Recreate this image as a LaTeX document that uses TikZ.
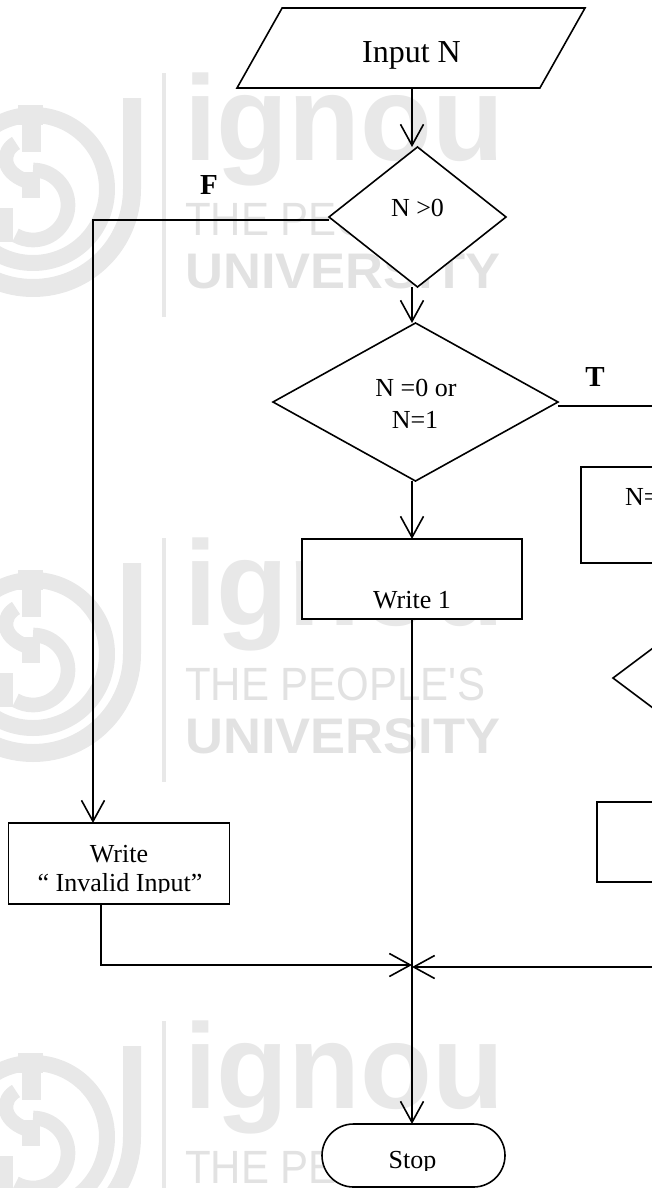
\documentclass[tikz,border=0pt]{standalone}
\usepackage{fontspec}
\setmainfont{Liberation Serif}
\newfontfamily\wmfont{Liberation Sans}
\usetikzlibrary{arrows.meta,shapes.geometric,shapes.misc}
\newdimen\px \px=0.75pt
\definecolor{wma}{HTML}{E8E8E8}
\definecolor{wmb}{HTML}{E2E2E2}
\tikzset{
  shp/.style={draw=black,fill=white,line width=1.2pt,inner sep=0pt,outer sep=0pt},
  boxn/.style={shp,rectangle,minimum width=#1},
  ddia/.style={shp,diamond},
  txt/.style={inner sep=0pt,outer sep=0pt,anchor=base,font=\fontsize{19.5}{23}\selectfont},
  bold txt/.style={inner sep=0pt,outer sep=0pt,anchor=base,font=\fontsize{21.75}{25}\selectfont\bfseries},
  conn/.style={draw=black,line width=1.3pt},
  arr/.style={conn,-{Straight Barb[length=15.75pt,width=17.25pt,line width=1.2pt]}},
  ring/.style={draw=wma,line width=#1,line cap=butt}
}
\newcommand{\wmark}[2]{%
  \begin{scope}[shift={(0,#1)}]
    \fill[wma] (162,0) rectangle (166,244);
    \node[anchor=base west,inner sep=0pt,text=wma] (ign#2) at (184,87)
      {\scalebox{.972}[1]{\wmfont\bfseries\fontsize{90.75}{95}\selectfont ignou}};
    \node[anchor=base west,inner sep=0pt,text=wmb] (the#2) at (185,162)
      {\scalebox{.9}[1]{\wmfont\fontsize{35}{38}\selectfont THE PEOPLE'S}};
    \node[anchor=base west,inner sep=0pt,text=wmb] (uni#2) at (185,215)
      {\scalebox{1.05}[1]{\wmfont\bfseries\fontsize{37.5}{40}\selectfont UNIVERSITY}};
    \draw[ring=13.5pt] (132,25) -- (132,116) arc[start angle=0,end angle=215,radius=99];
    \draw[ring=12pt] (33,116) circle[radius=74];
    \fill[wma] (18,32) rectangle (43,52);
    \fill[wma] (22,52) rectangle (41,79);
    \draw[ring=11pt] (33,97) arc[start angle=-90,end angle=120,radius=35];
    \fill[wma] (22,99) rectangle (40,125);
    \draw[ring=11pt] (16,70) .. controls (2,78) and (0,98) .. (26,108);
    \fill[wma] (0,135) rectangle (13,169);
  \end{scope}}
\begin{document}
\begin{tikzpicture}[x=0.75pt,y=-0.75pt]
\useasboundingbox (0,0) rectangle (652,1188);
\clip (0,0) rectangle (652,1188);
\wmark{73}{a}
\wmark{538}{b}
\wmark{1021}{c}
% shapes
\node[shp,trapezium,trapezium left angle=79.2,trapezium right angle=100.8,trapezium stretches=true,
  minimum width=348\px,minimum height=80\px] (input) at (411,48) {\phantom{x}};
\node[ddia,minimum width=177\px,minimum height=140\px] (d1) at (417.5,217) {};
\node[ddia,minimum width=285\px,minimum height=158\px] (d2) at (415.5,402) {};
\node[boxn=220\px,minimum height=80\px] (w1) at (412,579) {};
\node[boxn=221\px,minimum height=81\px] (inv) at (119,863.5) {};
\node[boxn=200\px,minimum height=96\px] (nbox) at (681,515) {};
\node[ddia,minimum width=160\px,minimum height=120\px] (d3) at (693,678) {};
\node[boxn=200\px,minimum height=80\px] (rbox) at (697,842) {};
\node[shp,rounded rectangle,minimum width=183\px,minimum height=63\px] (stop) at (413.5,1155.5) {};
% texts
\node[txt,font=\fontsize{24}{28}\selectfont] (tinput) at (411.5,63) {Input N};
\node[txt] (td1) at (417.5,216) {N >0};
\node[txt] (td2a) at (416,396) {N =0 or};
\node[txt] (td2b) at (415,428) {N=1};
\node[txt] (tw1) at (412,608) {Write 1};
\node[txt,anchor=base west] (tn) at (625,505) {N=};
\node[txt] (tinva) at (119,862) {Write};
\begin{scope}
  \clip (0,820) rectangle (300,892.5);
  \node[txt] (tinvb) at (120,891) {“ Invalid Input”};
\end{scope}
\begin{scope}
  \clip (300,1120) rectangle (520,1170.5);
  \node[txt] (tstop) at (412.5,1168) {Stop};
\end{scope}
\node[bold txt] (tf) at (209,194) {F};
\node[bold txt] (tt) at (595,386) {T};
% connectors
\coordinate (cx) at (412,0);
\coordinate (cf) at (93,0);
\coordinate (cl) at (101,0);
\coordinate (tend) at (652,406);
\coordinate (merge) at (412,965);
\coordinate (mr) at (652,967);
\draw[arr] (input.south -| cx) -- (d1.north -| cx);
\draw[arr] (d1.south -| cx) -- (d2.north -| cx);
\draw[arr] (d2.south -| cx) -- (w1.north -| cx);
\draw[arr] ([yshift=-3\px]d1.west) -| (inv.north -| cf);
\draw[conn] ([yshift=-4\px]d2.east) -- (tend);
\draw[arr] (w1.south -| cx) -- (stop.north -| cx);
\draw[arr] (inv.south -| cl) |- (merge);
\draw[arr] (mr) -- (merge |- mr);
\end{tikzpicture}
\end{document}
